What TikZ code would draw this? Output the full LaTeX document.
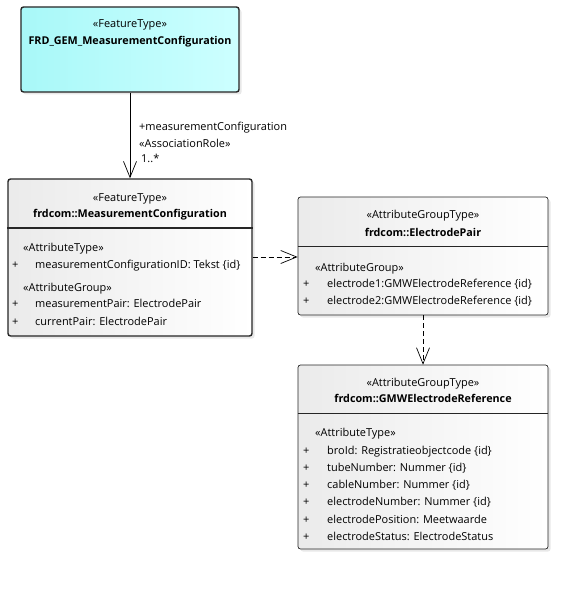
\documentclass[tikz,border=0pt]{standalone}
\usepackage{fontspec}
\setmainfont{Open Sans}
\usetikzlibrary{positioning, calc, arrows.meta, shadows}

\tikzset{
box/.style={rectangle, rounded corners=2.5bp, draw=black!85, left color=black!8, right color=white,
  drop shadow={shadow xshift=2.5bp, shadow yshift=-2.5bp, opacity=0.18}},
featbox/.style={box, line width=1.4bp},
groupbox/.style={box, line width=0.7bp},
txt/.style={inner sep=0pt, anchor=base west, font=\fontsize{11}{13}\selectfont},
ctxt/.style={inner sep=0pt, anchor=base, font=\fontsize{11}{13}\selectfont},
bold/.style={ctxt, font=\fontsize{10.8}{13}\selectfont\bfseries},
open/.style={-{Straight Barb[length=16bp, width=13bp]}, line width=0.7bp}
}

\begin{document}
\begin{tikzpicture}[x=1bp, y=-1bp]
\useasboundingbox (0,0) rectangle (562,593);

% boxes
\node[featbox, minimum width=218bp, minimum height=85bp,
left color={rgb,255:red,168;green,248;blue,248}, right color={rgb,255:red,205;green,255;blue,255}] (1) at (130,49.5) {};
\node[featbox, minimum width=244bp, minimum height=157bp] (2) at (130,257.5) {};
\node[groupbox, minimum width=250bp, minimum height=118bp] (3) at (423,256) {};
\node[groupbox, minimum width=250bp, minimum height=184bp] (4) at (423,457) {};

% header lines
\draw[line width=1.4bp, black!85] (2.west |- 0,228) -- (2.east |- 0,228);
\draw[line width=0.7bp, black!85] (3.west |- 0,246) -- (3.east |- 0,246);
\draw[line width=0.7bp, black!85] (4.west |- 0,413) -- (4.east |- 0,413);

% FRD_GEM_MeasurementConfiguration
\node[ctxt] (1s) at (130,28) {«FeatureType»};
\node[bold] (1n) at (130,45) {FRD\_GEM\_MeasurementConfiguration};

% frdcom::MeasurementConfiguration
\node[ctxt] (2s) at (130,201) {«FeatureType»};
\node[bold] (2n) at (130,217) {frdcom::MeasurementConfiguration};
\node[txt] (2a) at (23,251) {«AttributeType»};
\node[txt] (2b) at (12,268) {+};
\node[txt] (2c) at (35,268) {measurementConfigurationID: Tekst \{id\}};
\node[txt] (2d) at (23,291) {«AttributeGroup»};
\node[txt] (2e) at (12,307) {+};
\node[txt] (2f) at (35,307) {measurementPair: ElectrodePair};
\node[txt] (2g) at (12,325) {+};
\node[txt] (2h) at (35,325) {currentPair: ElectrodePair};

% frdcom::ElectrodePair
\node[ctxt] (3s) at (423,218) {«AttributeGroupType»};
\node[bold] (3n) at (423,236) {frdcom::ElectrodePair};
\node[txt] (3a) at (315,271) {«AttributeGroup»};
\node[txt] (3b) at (303,287) {+};
\node[txt] (3c) at (327,287) {electrode1:GMWElectrodeReference \{id\}};
\node[txt] (3d) at (303,304) {+};
\node[txt] (3e) at (327,304) {electrode2:GMWElectrodeReference \{id\}};

% frdcom::GMWElectrodeReference
\node[ctxt] (4s) at (423,386) {«AttributeGroupType»};
\node[bold] (4n) at (423,402) {frdcom::GMWElectrodeReference};
\node[txt] (4a) at (315,436) {«AttributeType»};
\foreach \i/\t [count=\k] in {0/broId: Registratieobjectcode \{id\},
  1/tubeNumber: Nummer \{id\},
  2/cableNumber: Nummer \{id\},
  3/electrodeNumber: Nummer \{id\},
  4/electrodePosition: Meetwaarde,
  5/electrodeStatus: ElectrodeStatus}
{
\node[txt] (4p\k) at (303,454+17.3*\i) {+};
\node[txt] (4t\k) at (327,454+17.3*\i) {\t};
}

% connectors
\draw[open] (1) -- (2);
\node[txt] (r1) at (139,131) {+measurementConfiguration};
\node[txt] (r2) at (139,148) {«AssociationRole»};
\node[txt] (r3) at (141,163) {1..*};
\draw[open, dashed, dash pattern=on 5bp off 3bp] (2.east |- 0,257) -- (3.west |- 0,257);
\draw[open, dashed, dash pattern=on 5bp off 3bp] (3) -- (4);
\end{tikzpicture}
\end{document}
